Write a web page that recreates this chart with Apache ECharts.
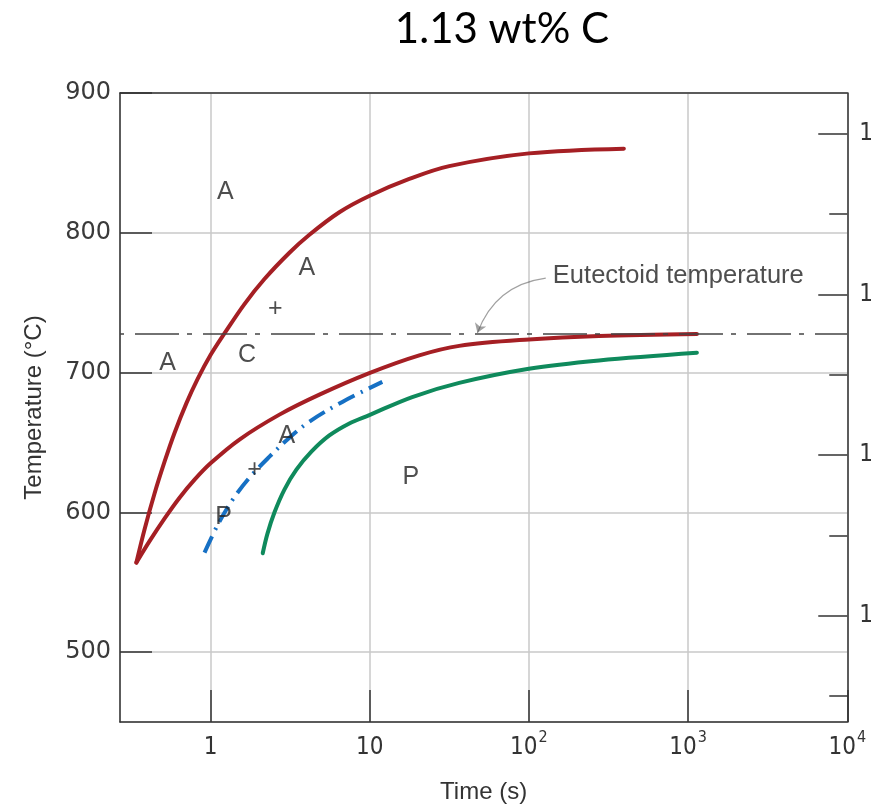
<!DOCTYPE html>
<html><head><meta charset="utf-8">
<script src="https://cdn.jsdelivr.net/npm/echarts@6/dist/echarts.min.js"></script>
<style>html,body{margin:0;padding:0;background:#fff}#c{width:876px;height:811px}</style>
</head><body><div id="c"></div>
<script>
// ---- data (time in s, temperature in °C) ----
const titleText = '1.13 wt% C';
const xTickValues = [1, 10, 100, 1000, 10000];
const xTickText = ['1', '10', '10^2', '10^3', '10^4'];
const rightMajorTicks = [1000, 1200, 1400, 1600];
const rightMajorLabels = ['1', '1', '1', '1'];
const rightMinorTicks = [900, 1100, 1300, 1500];

// proeutectoid cementite start (upper red)
const cemStartTime = [0.342, 0.385, 0.445, 0.515, 0.594, 0.707, 0.829, 1, 1.224, 1.634, 2.182, 3.131, 4.179, 6.447, 10, 17.72, 31.58, 100, 395];
const cemStartTemp = [564, 587.8, 613.5, 636.4, 656.8, 678.3, 695.3, 712.5, 728, 749, 766.9, 785.7, 798.6, 814.7, 826.5, 838.5, 847.7, 856.8, 860.2];
// pearlite start (lower red)
const pearStartTime = [0.342, 0.414, 0.515, 0.639, 0.794, 1, 1.52, 2.71, 4.83, 9.94, 20.48, 36.49, 100, 275.7, 1136];
const pearStartTemp = [564, 579.4, 595.7, 610.5, 623.4, 635.1, 652.1, 669.9, 684.2, 699.6, 712.3, 719.1, 723.7, 726.2, 727.6];
// pearlite finish (green)
const pearEndTime = [2.128, 2.279, 2.52, 2.912, 3.463, 4.301, 5.578, 7.447, 9.94, 18.5, 36.49, 100, 275.7, 1136];
const pearEndTemp = [570.7, 584.8, 599.9, 616.3, 630.5, 643.4, 655, 663.6, 669.6, 682.5, 692.6, 702.7, 708.7, 714.2];
// 50% completion (blue dashed)
const halfTime = [0.917, 1.106, 1.374, 1.757, 2.345, 3.131, 4.179, 6.731, 12];
const halfTemp = [571.2, 590.7, 608.9, 624.8, 639.8, 653.4, 664.9, 679, 693.3];

const eutectoidTemp = 728;
const annoText = ['A', 'A', '+', 'C', 'A', 'A', '+', 'P', 'P'];
const annoTime = [1.238, 4.03, 2.55, 1.694, 0.537, 3.02, 1.888, 1.207, 18.16];
const annoTemp = [828.8, 774.9, 745.6, 712.7, 706.9, 654.2, 630.4, 596.9, 625];
const eutLabel = 'Eutectoid temperature';
const eutLabelPos = [140.4, 769.2];
const arrowFrom = [127.6, 767.6];
const arrowTo = [47.5, 728.4];

const zip = (a, b) => a.map((v, i) => [v, b[i]]);
const axisColor = '#333';
const gridColor = '#c8c8c8';
const textColor = '#222';

const chart = echarts.init(document.getElementById('c'), null, {renderer: 'canvas'});
chart.setOption({
  animation: false,
  backgroundColor: '#fff',
  title: {
    text: titleText, left: 497, top: 3, textAlign: 'center',
    textStyle: {fontFamily: 'Lato', fontSize: 42, fontWeight: 'normal', color: '#000'}
  },
  grid: {left: 120, right: 27, top: 93, bottom: 89, show: false},
  xAxis: [{
    type: 'log', logBase: 10, min: 0.27, max: 10000, position: 'bottom',
    name: 'Time (s)', nameLocation: 'middle', nameGap: 58,
    nameTextStyle: {fontFamily: 'Liberation Sans', fontSize: 24, color: '#333'},
    axisLine: {show: true, lineStyle: {color: axisColor, width: 1.5}},
    axisTick: {show: true, inside: true, length: 32, lineStyle: {color: axisColor, width: 1.5}},
    minorTick: {show: false},
    splitLine: {show: true, lineStyle: {color: gridColor, width: 1.5}},
    axisLabel: {
      showMinLabel: false, margin: 8, color: '#333',
      formatter: v => {
        const i = xTickValues.findIndex(x => Math.abs(x - v) / x < 1e-6);
        if (i < 0) return '';
        const p = xTickText[i].split('^');
        return p.length > 1 ? '{b|' + p[0] + '}{s|' + p[1] + '}' : '{b|' + p[0] + '}';
      },
      rich: {
        b: {fontFamily: 'DejaVu Sans Condensed', fontSize: 24, color: '#333', lineHeight: 30, verticalAlign: 'bottom'},
        s: {fontFamily: 'DejaVu Sans Condensed', fontSize: 16, color: '#333', lineHeight: 30, verticalAlign: 'top', padding: [0, 0, 0, 1]}
      }
    }
  }, {
    type: 'log', logBase: 10, min: 0.27, max: 10000, position: 'top',
    axisLine: {show: true, lineStyle: {color: axisColor, width: 1.5}},
    axisTick: {show: false}, axisLabel: {show: false}, splitLine: {show: false}, minorTick: {show: false}
  }],
  yAxis: [{
    type: 'value', min: 450, max: 900, splitNumber: 5, position: 'left',
    name: 'Temperature (°C)', nameLocation: 'middle', nameGap: 74,
    nameTextStyle: {fontFamily: 'Liberation Sans', fontSize: 24, color: '#333'},
    axisLine: {show: true, lineStyle: {color: axisColor, width: 1.5}},
    axisTick: {show: true, inside: true, length: 32, lineStyle: {color: axisColor, width: 1.5}},
    splitLine: {show: true, lineStyle: {color: gridColor, width: 1.5}},
    axisLabel: {showMinLabel: false, margin: 9, fontFamily: 'DejaVu Sans', fontSize: 24, color: '#3a3a3a'}
  }, {
    type: 'value', min: 867.7, max: 1650.6, position: 'right',
    axisLine: {show: true, lineStyle: {color: axisColor, width: 1.5}}, splitLine: {show: false},
    axisTick: {show: true, inside: true, length: 29, customValues: rightMajorTicks, lineStyle: {color: axisColor, width: 1.5}},
    axisLabel: {show: true, margin: 12, customValues: rightMajorTicks, fontFamily: 'DejaVu Sans Condensed', fontSize: 24, color: '#333',
      formatter: v => { const i = rightMajorTicks.indexOf(Math.round(v)); return i < 0 ? '' : rightMajorLabels[i]; }}
  }, {
    type: 'value', min: 867.7, max: 1650.6, position: 'right',
    axisLine: {show: false}, splitLine: {show: false},
    axisTick: {show: true, inside: true, length: 18, customValues: rightMinorTicks, lineStyle: {color: axisColor, width: 1.5}},
    axisLabel: {show: false}
  }],
  series: [{
    name: 'pearlite finish', type: 'line', data: zip(pearEndTime, pearEndTemp),
    smooth: 0.35, showSymbol: false, symbol: 'none', z: 3,
    lineStyle: {color: '#0f8a5c', width: 4, cap: 'round'},
    markLine: {
      silent: true, symbol: ['none', 'none'], label: {show: false},
      lineStyle: {type: [44, 8, 5, 11], dashOffset: 53, color: '#444', width: 1.5},
      data: [{yAxis: eutectoidTemp}]
    }
  }, {
    name: '50%', type: 'line', data: zip(halfTime, halfTemp),
    smooth: 0.35, showSymbol: false, symbol: 'none', z: 3,
    lineStyle: {color: '#1670c4', width: 4, type: [18, 7, 2, 7]}
  }, {
    name: 'pearlite start', type: 'line', data: zip(pearStartTime, pearStartTemp),
    smooth: 0.35, showSymbol: false, symbol: 'none', z: 4,
    lineStyle: {color: '#a51f24', width: 4, cap: 'round', join: 'round'}
  }, {
    name: 'cementite start', type: 'line', data: zip(cemStartTime, cemStartTemp),
    smooth: 0.35, showSymbol: false, symbol: 'none', z: 4,
    lineStyle: {color: '#a51f24', width: 4, cap: 'round', join: 'round'}
  }, {
    name: 'arrow', type: 'lines', coordinateSystem: 'cartesian2d', z: 5,
    symbol: ['none', 'arrow'], symbolSize: 9,
    lineStyle: {color: '#444', width: 1.2, curveness: -0.3},
    data: [{coords: [arrowFrom, arrowTo]}]
  }, {
    name: 'labels', type: 'scatter', symbolSize: 1, z: 6,
    itemStyle: {color: 'rgba(0,0,0,0)'},
    label: {show: true, position: 'inside', fontFamily: 'Liberation Sans', fontSize: 25, color: textColor,
      formatter: p => annoText[p.dataIndex]},
    data: zip(annoTime, annoTemp)
  }, {
    name: 'eutLabel', type: 'scatter', symbolSize: 1, z: 6,
    itemStyle: {color: 'rgba(0,0,0,0)'},
    label: {show: true, position: 'right', distance: 0, fontFamily: 'Liberation Sans', fontSize: 25.5, color: textColor,
      formatter: () => eutLabel},
    data: [eutLabelPos]
  }]
});
</script>
</body></html>
